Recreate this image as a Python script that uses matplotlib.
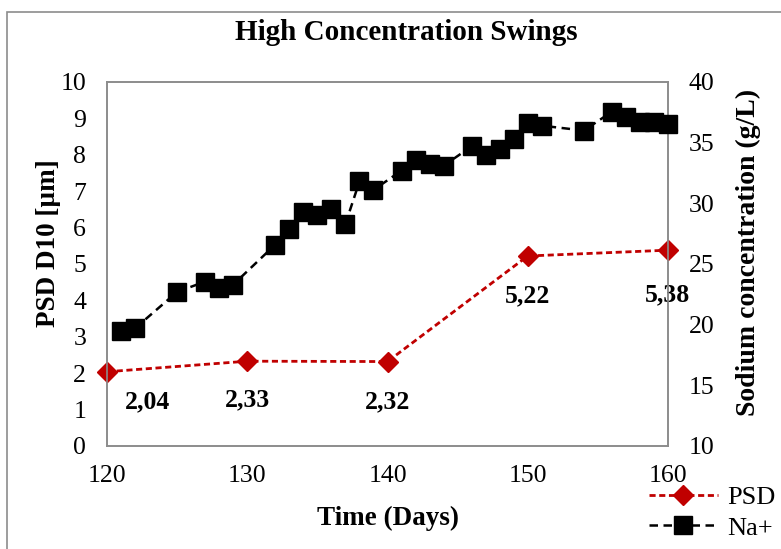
import matplotlib
matplotlib.use("Agg")
import matplotlib.pyplot as plt
from matplotlib.patches import Rectangle

plt.rcParams['font.family'] = ['Liberation Serif', 'DejaVu Serif']

# PSD D10 data (left axis)
psd_days = [120, 130, 140, 150, 160]
psd_vals = [2.04, 2.33, 2.32, 5.22, 5.38]
psd_labels = ['2,04', '2,33', '2,32', '5,22', '5,38']

# sodium concentration (right axis)
na_days = [121, 122, 125, 127, 128, 129, 132, 133, 134, 135, 136, 137, 138, 139,
           141, 142, 143, 144, 146, 147, 148, 149, 150, 151, 154, 156, 157, 158, 159, 160]
na_vals = [19.5, 19.7, 22.7, 23.55, 23.0, 23.3, 26.6, 27.9, 29.3, 29.05, 29.5, 28.3, 31.8, 31.1,
           32.7, 33.55, 33.25, 33.1, 34.7, 34.0, 34.5, 35.3, 36.6, 36.4, 36.0, 37.55, 37.1, 36.7, 36.7, 36.5]

red = '#C00000'
grey = '#8c8c8c'

fig = plt.figure(figsize=(7.81, 5.49), dpi=100)
ax = fig.add_axes([107/781, 1-446/549, (668-107)/781, (446-82)/549])
ax2 = ax.twinx()

# outer chart frame
fig.patches.append(Rectangle((7/781, -0.1), 1.2, 1-12/549+0.1, transform=fig.transFigure,
                             fill=False, edgecolor=grey, lw=1.2))

l1, = ax.plot(psd_days, psd_vals, color=red, lw=2.0, dashes=(2.2, 1.3),
              marker='D', ms=10.5, clip_on=False, zorder=5)
l2, = ax2.plot(na_days, na_vals, color='black', lw=1.8, dashes=(3.4, 2.2),
               marker='s', ms=12.5, clip_on=False, zorder=5)

# data labels below the PSD points
offsets = [(29, -22), (0, -28), (0, -29), (0, -29), (0, -32)]
for d, v, t, off in zip(psd_days, psd_vals, psd_labels, offsets):
    ax.annotate(t, (d, v), xytext=off, textcoords='offset points', ha='center', va='center',
                fontsize=18.5, fontweight='bold', zorder=6)

ax.set_xlim(120, 160)
ax.set_ylim(0, 10)
ax2.set_ylim(10, 40)
ax.set_xticks([120, 130, 140, 150, 160])
ax.set_yticks(range(0, 11))
ax2.set_yticks(range(10, 41, 5))

for a in (ax, ax2):
    a.tick_params(length=0, labelsize=18.5)
    for s in a.spines.values():
        s.set_color(grey)
        s.set_linewidth(1.2)
ax.tick_params(axis='y', pad=15)
ax2.tick_params(axis='y', pad=15)
ax.tick_params(axis='x', pad=14)

fig.text(0.52, 1-32/549, 'High Concentration Swings', ha='center', va='center',
         fontsize=21, fontweight='bold')
fig.text(388/781, 1-518/549, 'Time (Days)', ha='center', va='center',
         fontsize=19.5, fontweight='bold')
fig.text(49/781, 1-243/549, 'PSD D10 [µm]', ha='center', va='center', rotation=90,
         fontsize=19.5, fontweight='bold')
fig.text(748/781, 1-252/549, 'Sodium concentration (g/L)', ha='center', va='center',
         rotation=90, fontsize=20, fontweight='bold')

fig.legend([l1, l2], ['PSD', 'Na+'], loc='upper left', bbox_to_anchor=(649/781, 1-486/549),
           frameon=False, fontsize=19, handlelength=2.6, handletextpad=0.35,
           labelspacing=0.25, borderpad=0, borderaxespad=0)

fig.savefig('out.png', dpi=100)
